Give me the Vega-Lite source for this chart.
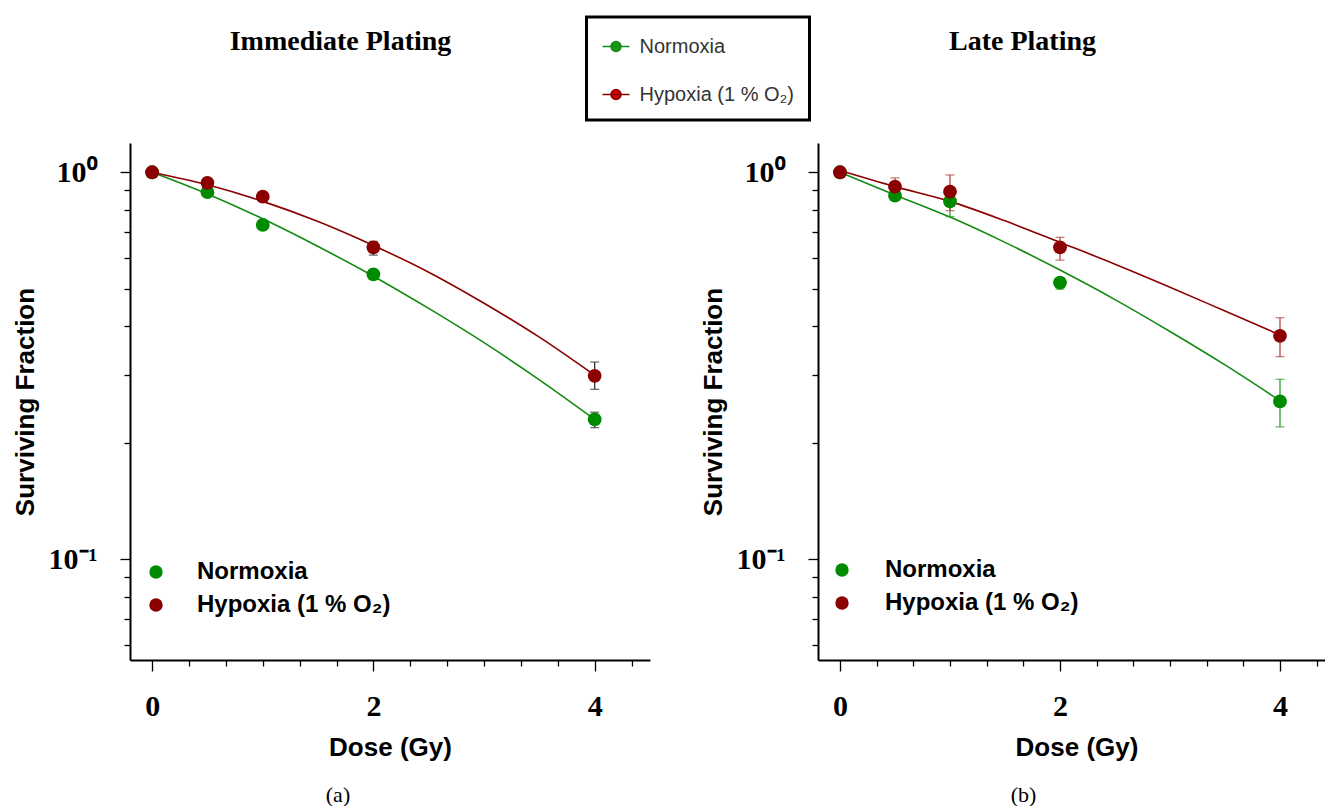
{
  "$schema": "https://vega.github.io/schema/vega-lite/v6.json",
  "padding": {"left": 12, "top": 15, "right": 0, "bottom": 0},
  "background": "white",
  "config": {
    "view": {"stroke": null},
    "axis": {"grid": false, "domainColor": "black", "tickColor": "black", "domainWidth": 2, "tickWidth": 1.3}
  },
  "datasets": {
    "pts": [
      {"panel": "a", "cond": "Normoxia", "dose": 0, "sf": 1.0, "lo": null, "hi": null},
      {"panel": "a", "cond": "Normoxia", "dose": 0.5, "sf": 0.888, "lo": null, "hi": null},
      {"panel": "a", "cond": "Normoxia", "dose": 1, "sf": 0.731, "lo": null, "hi": null},
      {"panel": "a", "cond": "Normoxia", "dose": 2, "sf": 0.545, "lo": null, "hi": null},
      {"panel": "a", "cond": "Normoxia", "dose": 4, "sf": 0.230, "lo": 0.219, "hi": 0.240},
      {"panel": "a", "cond": "Hypoxia (1 % O₂)", "dose": 0, "sf": 1.0, "lo": null, "hi": null},
      {"panel": "a", "cond": "Hypoxia (1 % O₂)", "dose": 0.5, "sf": 0.939, "lo": null, "hi": null},
      {"panel": "a", "cond": "Hypoxia (1 % O₂)", "dose": 1, "sf": 0.865, "lo": null, "hi": null},
      {"panel": "a", "cond": "Hypoxia (1 % O₂)", "dose": 2, "sf": 0.640, "lo": 0.611, "hi": 0.663},
      {"panel": "a", "cond": "Hypoxia (1 % O₂)", "dose": 4, "sf": 0.298, "lo": 0.275, "hi": 0.3235},
      {"panel": "b", "cond": "Normoxia", "dose": 0, "sf": 1.0, "lo": null, "hi": null},
      {"panel": "b", "cond": "Normoxia", "dose": 0.5, "sf": 0.870, "lo": 0.848, "hi": 0.893},
      {"panel": "b", "cond": "Normoxia", "dose": 1, "sf": 0.841, "lo": 0.768, "hi": 0.914},
      {"panel": "b", "cond": "Normoxia", "dose": 2, "sf": 0.519, "lo": 0.499, "hi": 0.533},
      {"panel": "b", "cond": "Normoxia", "dose": 4, "sf": 0.256, "lo": 0.220, "hi": 0.292},
      {"panel": "b", "cond": "Hypoxia (1 % O₂)", "dose": 0, "sf": 1.0, "lo": null, "hi": null},
      {"panel": "b", "cond": "Hypoxia (1 % O₂)", "dose": 0.5, "sf": 0.918, "lo": 0.865, "hi": 0.967},
      {"panel": "b", "cond": "Hypoxia (1 % O₂)", "dose": 1, "sf": 0.891, "lo": 0.796, "hi": 0.984},
      {"panel": "b", "cond": "Hypoxia (1 % O₂)", "dose": 2, "sf": 0.640, "lo": 0.593, "hi": 0.679},
      {"panel": "b", "cond": "Hypoxia (1 % O₂)", "dose": 4, "sf": 0.378, "lo": 0.334, "hi": 0.421}
    ],
    "fit": [
      {"panel": "a", "cond": "Normoxia", "dose": 0, "sf": 1.0},
      {"panel": "a", "cond": "Normoxia", "dose": 0.5, "sf": 0.879},
      {"panel": "a", "cond": "Normoxia", "dose": 1, "sf": 0.758},
      {"panel": "a", "cond": "Normoxia", "dose": 1.5, "sf": 0.643},
      {"panel": "a", "cond": "Normoxia", "dose": 2, "sf": 0.539},
      {"panel": "a", "cond": "Normoxia", "dose": 2.5, "sf": 0.445},
      {"panel": "a", "cond": "Normoxia", "dose": 3, "sf": 0.363},
      {"panel": "a", "cond": "Normoxia", "dose": 3.5, "sf": 0.291},
      {"panel": "a", "cond": "Normoxia", "dose": 4, "sf": 0.230},
      {"panel": "a", "cond": "Hypoxia (1 % O₂)", "dose": 0, "sf": 1.0},
      {"panel": "a", "cond": "Hypoxia (1 % O₂)", "dose": 0.5, "sf": 0.928},
      {"panel": "a", "cond": "Hypoxia (1 % O₂)", "dose": 1, "sf": 0.841},
      {"panel": "a", "cond": "Hypoxia (1 % O₂)", "dose": 1.5, "sf": 0.746},
      {"panel": "a", "cond": "Hypoxia (1 % O₂)", "dose": 2, "sf": 0.647},
      {"panel": "a", "cond": "Hypoxia (1 % O₂)", "dose": 2.5, "sf": 0.552},
      {"panel": "a", "cond": "Hypoxia (1 % O₂)", "dose": 3, "sf": 0.459},
      {"panel": "a", "cond": "Hypoxia (1 % O₂)", "dose": 3.5, "sf": 0.375},
      {"panel": "a", "cond": "Hypoxia (1 % O₂)", "dose": 4, "sf": 0.299},
      {"panel": "b", "cond": "Normoxia", "dose": 0, "sf": 1.0},
      {"panel": "b", "cond": "Normoxia", "dose": 0.5, "sf": 0.874},
      {"panel": "b", "cond": "Normoxia", "dose": 1, "sf": 0.766},
      {"panel": "b", "cond": "Normoxia", "dose": 1.5, "sf": 0.659},
      {"panel": "b", "cond": "Normoxia", "dose": 2, "sf": 0.559},
      {"panel": "b", "cond": "Normoxia", "dose": 2.5, "sf": 0.469},
      {"panel": "b", "cond": "Normoxia", "dose": 3, "sf": 0.388},
      {"panel": "b", "cond": "Normoxia", "dose": 3.5, "sf": 0.318},
      {"panel": "b", "cond": "Normoxia", "dose": 4, "sf": 0.257},
      {"panel": "b", "cond": "Hypoxia (1 % O₂)", "dose": 0, "sf": 1.01},
      {"panel": "b", "cond": "Hypoxia (1 % O₂)", "dose": 0.5, "sf": 0.918},
      {"panel": "b", "cond": "Hypoxia (1 % O₂)", "dose": 1, "sf": 0.841},
      {"panel": "b", "cond": "Hypoxia (1 % O₂)", "dose": 1.5, "sf": 0.749},
      {"panel": "b", "cond": "Hypoxia (1 % O₂)", "dose": 2, "sf": 0.659},
      {"panel": "b", "cond": "Hypoxia (1 % O₂)", "dose": 2.5, "sf": 0.579},
      {"panel": "b", "cond": "Hypoxia (1 % O₂)", "dose": 3, "sf": 0.505},
      {"panel": "b", "cond": "Hypoxia (1 % O₂)", "dose": 3.5, "sf": 0.438},
      {"panel": "b", "cond": "Hypoxia (1 % O₂)", "dose": 4, "sf": 0.380}
    ]
  },
  "hconcat": [
    {
      "width": 520,
      "height": 517,
      "title": {"text": "(a)", "orient": "bottom", "anchor": "middle", "frame": "group", "dx": -52, "offset": 25, "font": "Liberation Serif", "fontSize": 22, "fontWeight": "normal", "color": "black"},
      "resolve": {"axis": {"x": "independent"}},
      "layer": [
        {
          "data": {"name": "fit"},
          "transform": [{"filter": "datum.panel == 'a'"}],
          "mark": {"type": "line", "interpolate": "monotone", "strokeWidth": 1.6},
          "encoding": {
            "x": {"field": "dose", "type": "quantitative", "scale": {"domain": [-0.2, 4.5], "nice": false, "zero": false},
              "axis": {"orient": "bottom", "title": "Dose (Gy)", "values": [0, 0.3333, 0.6667, 1, 1.3333, 1.6667, 2, 2.3333, 2.6667, 3, 3.3333, 3.6667, 4, 4.3333],
                "labelExpr": "abs(datum.value-round(datum.value))<0.01 && round(datum.value)%2==0 ? format(round(datum.value),'d') : ''",
                "tickSize": {"condition": {"test": "abs(datum.value-round(datum.value))<0.01 && round(datum.value)%2==0", "value": 11}, "value": 6},
                "labelFont": "Liberation Serif", "labelFontWeight": "bold", "labelFontSize": 30, "labelPadding": 20, "labelColor": "black",
                "titleFont": "Liberation Sans", "titleFontWeight": "bold", "titleFontSize": 26, "titlePadding": 13, "titleColor": "black"}},
            "y": {"field": "sf", "type": "quantitative", "title": "Surviving Fraction", "scale": {"type": "log", "domain": [0.055, 1.19], "nice": false},
              "axis": {"title": "Surviving Fraction", "values": [1, 0.9, 0.8, 0.7, 0.6, 0.5, 0.4, 0.3, 0.2, 0.1, 0.09, 0.08, 0.07, 0.06],
                "labelExpr": "datum.value == 1 ? '10⁰' : (abs(datum.value-0.1)<1e-9 ? '10⁻¹' : '')",
                "tickSize": {"condition": {"test": "datum.value == 1 || abs(datum.value-0.1)<1e-9", "value": 10}, "value": 6},
                "labelFont": "Liberation Serif", "labelFontWeight": "bold", "labelFontSize": 30, "labelPadding": 23, "labelColor": "black",
                "titleFont": "Liberation Sans", "titleFontWeight": "bold", "titleFontSize": 26, "titlePadding": 10, "titleColor": "black"}},
            "stroke": {"field": "cond", "type": "nominal", "sort": ["Normoxia", "Hypoxia (1 % O₂)"], "scale": {"range": ["#138a13", "#8b0000"]},
              "legend": {"orient": "none", "legendX": 456.5, "legendY": -126, "title": null, "padding": 15, "rowPadding": 23, "labelOffset": 9, "labelLimit": 400,
                "symbolType": "M-1,0H1M-0.37,0A0.37,0.37,0,1,0,0.37,0A0.37,0.37,0,1,0,-0.37,0Z", "symbolSize": 729, "symbolStrokeWidth": 1.5,
                "labelFont": "Liberation Sans", "labelFontSize": 20, "labelFontWeight": "normal", "labelColor": "#333333",
                "encode": {
                  "legend": {"update": {"stroke": {"value": "black"}, "strokeWidth": {"value": 3}, "fill": {"value": "white"}}},
                  "symbols": {"update": {"fill": {"signal": "datum.value == 'Normoxia' ? '#189818' : '#cc0000'"}, "stroke": {"signal": "datum.value == 'Normoxia' ? '#3aa83a' : '#e06a6a'"}}}
                }}}
          }
        },
        {
          "data": {"name": "pts"},
          "transform": [{"filter": "datum.panel == 'a' && datum.lo != null"}],
          "mark": {"type": "errorbar", "ticks": {"size": 9}, "color": "#333333", "thickness": 1.3},
          "encoding": {
            "x": {"field": "dose", "type": "quantitative", "axis": null},
            "y": {"field": "lo", "type": "quantitative", "title": "Surviving Fraction"},
            "y2": {"field": "hi"}
          }
        },
        {
          "data": {"name": "pts"},
          "transform": [{"filter": "datum.panel == 'a'"}],
          "mark": {"type": "circle", "size": 190, "opacity": 1},
          "encoding": {
            "x": {"field": "dose", "type": "quantitative",
              "axis": {"orient": "top", "title": "Immediate Plating", "labels": false, "ticks": false, "domain": false,
                "titleFont": "Liberation Serif", "titleFontSize": 28, "titleFontWeight": "bold", "titleColor": "black",
                "titleX": 210, "titleY": -94, "titleBaseline": "alphabetic", "titleAlign": "center", "titleAngle": 0}},
            "y": {"field": "sf", "type": "quantitative", "title": "Surviving Fraction"},
            "color": {"field": "cond", "type": "nominal", "scale": {"domain": ["Normoxia", "Hypoxia (1 % O₂)"], "range": ["#008a00", "#8b0000"]},
              "legend": {"orient": "none", "legendX": 14, "legendY": 417, "title": null, "padding": 0, "symbolType": "circle", "symbolSize": 180, "labelLimit": 400,
                "labelFont": "Liberation Sans", "labelFontSize": 24, "labelFontWeight": "bold", "labelColor": "black", "labelOffset": 29, "rowPadding": 9}}
          }
        }
      ]
    },
    {
      "width": 517,
      "height": 517,
      "title": {"text": "(b)", "orient": "bottom", "anchor": "middle", "frame": "group", "dx": -53, "offset": 25, "font": "Liberation Serif", "fontSize": 22, "fontWeight": "normal", "color": "black"},
      "resolve": {"axis": {"x": "independent"}},
      "layer": [
        {
          "data": {"name": "fit"},
          "transform": [{"filter": "datum.panel == 'b'"}],
          "mark": {"type": "line", "interpolate": "monotone", "strokeWidth": 1.6},
          "encoding": {
            "x": {"field": "dose", "type": "quantitative", "scale": {"domain": [-0.2, 4.5], "nice": false, "zero": false},
              "axis": {"orient": "bottom", "title": "Dose (Gy)", "values": [0, 0.3333, 0.6667, 1, 1.3333, 1.6667, 2, 2.3333, 2.6667, 3, 3.3333, 3.6667, 4, 4.3333],
                "labelExpr": "abs(datum.value-round(datum.value))<0.01 && round(datum.value)%2==0 ? format(round(datum.value),'d') : ''",
                "tickSize": {"condition": {"test": "abs(datum.value-round(datum.value))<0.01 && round(datum.value)%2==0", "value": 11}, "value": 6},
                "labelFont": "Liberation Serif", "labelFontWeight": "bold", "labelFontSize": 30, "labelPadding": 20, "labelColor": "black",
                "titleFont": "Liberation Sans", "titleFontWeight": "bold", "titleFontSize": 26, "titlePadding": 13, "titleColor": "black"}},
            "y": {"field": "sf", "type": "quantitative", "title": "Surviving Fraction", "scale": {"type": "log", "domain": [0.055, 1.19], "nice": false},
              "axis": {"title": "Surviving Fraction", "values": [1, 0.9, 0.8, 0.7, 0.6, 0.5, 0.4, 0.3, 0.2, 0.1, 0.09, 0.08, 0.07, 0.06],
                "labelExpr": "datum.value == 1 ? '10⁰' : (abs(datum.value-0.1)<1e-9 ? '10⁻¹' : '')",
                "tickSize": {"condition": {"test": "datum.value == 1 || abs(datum.value-0.1)<1e-9", "value": 10}, "value": 6},
                "labelFont": "Liberation Serif", "labelFontWeight": "bold", "labelFontSize": 30, "labelPadding": 23, "labelColor": "black",
                "titleFont": "Liberation Sans", "titleFontWeight": "bold", "titleFontSize": 26, "titlePadding": 10, "titleColor": "black"}},
            "stroke": {"field": "cond", "type": "nominal", "sort": ["Normoxia", "Hypoxia (1 % O₂)"], "scale": {"range": ["#138a13", "#8b0000"]}, "legend": null}
          }
        },
        {
          "data": {"name": "pts"},
          "transform": [{"filter": "datum.panel == 'b' && datum.lo != null && datum.cond == 'Normoxia'"}],
          "mark": {"type": "errorbar", "ticks": {"size": 9}, "color": "#2f9a2f", "thickness": 1.3},
          "encoding": {
            "x": {"field": "dose", "type": "quantitative", "axis": null},
            "y": {"field": "lo", "type": "quantitative", "title": "Surviving Fraction"},
            "y2": {"field": "hi"}
          }
        },
        {
          "data": {"name": "pts"},
          "transform": [{"filter": "datum.panel == 'b' && datum.lo != null && datum.cond != 'Normoxia'"}],
          "mark": {"type": "errorbar", "ticks": {"size": 9}, "color": "#b04848", "thickness": 1.3},
          "encoding": {
            "x": {"field": "dose", "type": "quantitative", "axis": null},
            "y": {"field": "lo", "type": "quantitative", "title": "Surviving Fraction"},
            "y2": {"field": "hi"}
          }
        },
        {
          "data": {"name": "pts"},
          "transform": [{"filter": "datum.panel == 'b'"}],
          "mark": {"type": "circle", "size": 190, "opacity": 1},
          "encoding": {
            "x": {"field": "dose", "type": "quantitative",
              "axis": {"orient": "top", "title": "Late Plating", "labels": false, "ticks": false, "domain": false,
                "titleFont": "Liberation Serif", "titleFontSize": 28, "titleFontWeight": "bold", "titleColor": "black",
                "titleX": 204, "titleY": -94, "titleBaseline": "alphabetic", "titleAlign": "center", "titleAngle": 0}},
            "y": {"field": "sf", "type": "quantitative", "title": "Surviving Fraction"},
            "color": {"field": "cond", "type": "nominal", "scale": {"domain": ["Normoxia", "Hypoxia (1 % O₂)"], "range": ["#008a00", "#8b0000"]},
              "legend": {"orient": "none", "legendX": 12, "legendY": 415, "title": null, "padding": 0, "symbolType": "circle", "symbolSize": 180, "labelLimit": 400,
                "labelFont": "Liberation Sans", "labelFontSize": 24, "labelFontWeight": "bold", "labelColor": "black", "labelOffset": 31, "rowPadding": 9}}
          }
        }
      ]
    }
  ],
  "spacing": 168,
  "bounds": "flush",
  "resolve": {"legend": {"color": "independent", "stroke": "independent"}}
}
